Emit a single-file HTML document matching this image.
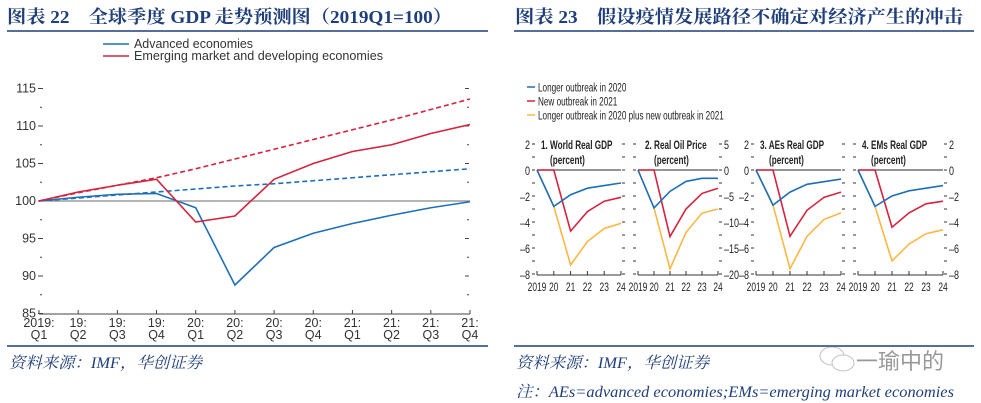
<!DOCTYPE html>
<html><head><meta charset="utf-8"><style>
html,body{margin:0;padding:0;background:#fff;width:981px;height:403px;overflow:hidden}
svg{display:block}
.t{font-family:"Liberation Serif","Noto Serif CJK SC",serif;font-weight:bold;fill:#1f3f7a;font-size:18px}
.s{font-family:"Liberation Serif","Noto Serif CJK SC",serif;font-style:italic;fill:#1f3f7a;font-size:16px}
.ax{font-family:"Liberation Sans",sans-serif;font-size:12.5px;fill:#333}
.nx{font-family:"Liberation Sans",sans-serif;font-size:12px;fill:#222}
</style></head><body>
<svg id="svg" width="981" height="403" xmlns="http://www.w3.org/2000/svg">
<text class="t" x="7" y="23" textLength="445" lengthAdjust="spacingAndGlyphs">图表 22　全球季度 GDP 走势预测图（2019Q1=100）</text>
<line x1="7" y1="31" x2="488" y2="31" stroke="#1f3f7a" stroke-width="1.5"/>
<text class="t" x="515" y="23" textLength="448" lengthAdjust="spacingAndGlyphs">图表 23　假设疫情发展路径不确定对经济产生的冲击</text>
<line x1="514" y1="31" x2="974" y2="31" stroke="#1f3f7a" stroke-width="1.5"/>
<line x1="7" y1="346" x2="488" y2="346" stroke="#1f3f7a" stroke-width="1.5"/>
<line x1="514" y1="346" x2="974" y2="346" stroke="#1f3f7a" stroke-width="1.5"/>
<text class="s" x="9" y="368" textLength="193" lengthAdjust="spacingAndGlyphs">资料来源：IMF，华创证券</text>
<text class="s" x="516" y="368" textLength="193" lengthAdjust="spacingAndGlyphs">资料来源：IMF，华创证券</text>
<text class="s" x="516" y="397" textLength="438" lengthAdjust="spacingAndGlyphs">注：AEs=advanced economies;EMs=emerging market economies</text>
<g opacity="0.6">
<ellipse cx="832" cy="356" rx="12" ry="9" fill="none" stroke="#999"/>
<ellipse cx="843" cy="363" rx="11" ry="8" fill="#fff" stroke="#999"/>
<text x="856" y="369" font-family="Liberation Sans,Noto Sans CJK SC,sans-serif" font-size="22" fill="#555">一瑜中的</text>
</g>
<g id="left"></g>
<g id="right"></g>
</svg>
<script>
const quarters=["2019:|Q1","19:|Q2","19:|Q3","19:|Q4","20:|Q1","20:|Q2","20:|Q3","20:|Q4","21:|Q1","21:|Q2","21:|Q3","21:|Q4"];
const advanced=[100,100.5,100.9,101,99.1,88.8,93.8,95.7,97,98.1,99.1,99.9];
const emerging=[100,101.2,102.1,102.9,97.2,98,102.9,105,106.6,107.5,109,110.2];
const advancedTrend=[100,100.4,100.8,101.2,101.6,102,102.3,102.7,103.1,103.5,103.9,104.3];
const emergingTrend=[100,101.1,102.1,103.1,104.3,105.6,106.9,108.2,109.5,110.8,112.2,113.6];
const yTicksL=[85,90,95,100,105,110,115];

const years=["2019","20","21","22","23","24"];
const panelTitles=["1. World Real GDP","2. Real Oil Price","3. AEs Real GDP","4. EMs Real GDP"];
const blueP=[[0,-2.8,-1.9,-1.4,-1.2,-1.0],[0,-7.3,-4.1,-2.2,-1.6,-1.6],[0,-2.7,-1.7,-1.1,-0.9,-0.7],[0,-2.8,-2.0,-1.6,-1.4,-1.2]];
const redP=[[0,0,-4.7,-3.2,-2.4,-2.1],[0,0,-12.8,-7.5,-4.5,-3.5],[0,0,-5.1,-3.1,-2.1,-1.7],[0,0,-4.4,-3.3,-2.6,-2.4]];
const yellowP=[[0,-2.8,-7.3,-5.5,-4.5,-4.1],[0,-7.3,-19,-12,-8.3,-7.5],[0,-2.7,-7.6,-5.1,-3.8,-3.3],[0,-2.8,-7.0,-5.7,-4.9,-4.6]];
const panelTicks=[[2,0,-2,-4,-6,-8],[5,0,-5,-10,-15,-20],[2,0,-2,-4,-6,-8],[2,0,-2,-4,-6,-8]];
const legendLabels=["Longer outbreak in 2020","New outbreak in 2021","Longer outbreak in 2020 plus new outbreak in 2021"];

const NS="http://www.w3.org/2000/svg";
function mk(p,tag,at){const e=document.createElementNS(NS,tag);for(const k in at)e.setAttribute(k,at[k]);p.appendChild(e);return e;}
function ctext(p,x,y,str,size,sx,anchor,bold){
  const t=mk(p,'text',{transform:`translate(${x},${y}) scale(${sx},1)`,x:0,y:0,'text-anchor':anchor||'start',class:'nx','font-size':size});
  if(bold)t.setAttribute('font-weight','bold');
  t.textContent=str;return t;
}

// Left chart
const L=document.getElementById('left');
const lx=i=>39+i*(431/11), ly=v=>201-(v-100)*7.5;
for(let v=85;v<=115;v+=2.5){
  const major=v%5===0;
  const t1=mk(L,'line',{x1:major?38:40,x2:major?43:42,y1:ly(v),y2:ly(v),stroke:'#444','stroke-width':1});
  
  
  if(v>85){const t2=mk(L,'line',{x1:major?465:467,x2:469,y1:ly(v),y2:ly(v),stroke:'#444','stroke-width':1});
  
  }
}
yTicksL.forEach(v=>{const t=mk(L,'text',{x:36,y:ly(v)+4,'text-anchor':'end',class:'ax'});t.textContent=v;
  
  });
const xa=mk(L,'line',{x1:39,x2:470,y1:314,y2:314,stroke:'#444'});


quarters.forEach((q,i)=>{
  const tk=mk(L,'line',{x1:lx(i),x2:lx(i),y1:310,y2:314,stroke:'#444'});
  
  
  const [a,b]=q.split('|');
  const t=mk(L,'text',{x:lx(i),y:327,'text-anchor':'middle',class:'ax'});t.textContent=a;
  
  
  const t2=mk(L,'text',{x:lx(i),y:339,'text-anchor':'middle',class:'ax'});t2.textContent=b;
  
  
});
const base=mk(L,'line',{x1:39,x2:470,y1:ly(100),y2:ly(100),stroke:'#888','stroke-width':1.2});


function ser(arr,col,dash,name){
  const p=mk(L,'polyline',{points:arr.map((v,i)=>lx(i)+','+ly(v)).join(' '),fill:'none',stroke:col,'stroke-width':1.6});
  if(dash)p.setAttribute('stroke-dasharray','5,3');
  
  
}
ser(advancedTrend,'#1f6fb8',true,'advanced-trend-line');
ser(emergingTrend,'#d4243f',true,'emerging-trend-line');
ser(advanced,'#1f6fb8',false,'advanced-line');
ser(emerging,'#d4243f',false,'emerging-line');
[['#1f6fb8','Advanced economies',45,119],['#d4243f','Emerging market and developing economies',57,249]].forEach(([c,l,y,w])=>{
  const g=mk(L,'g',{});
  
  
  mk(g,'line',{x1:103,x2:129,y1:y-1,y2:y-1,stroke:c,'stroke-width':1.6});
  const t=mk(g,'text',{x:134,y:y+3,class:'ax',fill:'#333',textLength:w,lengthAdjust:'spacingAndGlyphs'});t.textContent=l;
});

// Right chart
const R=document.getElementById('right');
const cols=['#1f6fb8','#d4243f','#fdb844'];
legendLabels.forEach((l,i)=>{
  const g=mk(R,'g',{});
  
  
  const y=87+i*14;
  mk(g,'line',{x1:527,x2:535,y1:y,y2:y,stroke:cols[i],'stroke-width':1.5});
  ctext(g,538,y+4.5,l,12.5,0.68);
});
const panels=[{x0:537,x1:621,side:'L'},{x0:638,x1:718,side:'R'},{x0:756,x1:841,side:'L'},{x0:858,x1:943,side:'R'}];
const titleX=[541,645,760,862];
panels.forEach((P,k)=>{
  const g=mk(R,'g',{});
  
  
  const tk=panelTicks[k], top=tk[0], bot=tk[tk.length-1];
  const py=v=>170-(v/(0-bot))*104;
  const px=i=>P.x0+i*(P.x1-P.x0)/5;
  const step=(tk[0]-tk[1])/2;
  for(let v=top;v>bot-0.001;v-=step){
    const lxp=P.x0-5, rxp=P.x1+1;
    mk(g,'line',{x1:lxp,x2:lxp+3,y1:py(v),y2:py(v),stroke:'#333','stroke-width':1});
    mk(g,'line',{x1:rxp,x2:rxp+3,y1:py(v),y2:py(v),stroke:'#333','stroke-width':1});
  }
  tk.forEach(v=>{
    const s=String(v).replace('-','–');
    const t=ctext(g,P.side==='L'?P.x0-7:P.x1+6,py(v)+5,s,14,0.75,P.side==='L'?'end':'start');
    
    
  });
  mk(g,'line',{x1:P.x0,x2:P.x1,y1:py(0),y2:py(0),stroke:'#555','stroke-width':1.2});
  mk(g,'line',{x1:P.x0,x2:P.x1,y1:275,y2:275,stroke:'#333'});
  years.forEach((yv,i)=>{
    mk(g,'line',{x1:px(i),x2:px(i),y1:271,y2:275,stroke:'#333'});
    const t=ctext(g,px(i),291,yv,14,0.7,'middle');
    
    
  });
  const tt=ctext(g,titleX[k],149,panelTitles[k],13.5,0.68,'start',true);
  
  
  const t2=ctext(g,titleX[k]+9,164,'(percent)',13.5,0.68,'start',true);
  
  
  [[yellowP,2,'yellow-line'],[redP,1,'red-line'],[blueP,0,'blue-line']].forEach(([arr,ci,nm])=>{
    const p=mk(g,'polyline',{points:arr[k].map((v,i)=>px(i)+','+py(v)).join(' '),fill:'none',stroke:cols[ci],'stroke-width':1.6});
    
    
  });
});
</script>
</body></html>
